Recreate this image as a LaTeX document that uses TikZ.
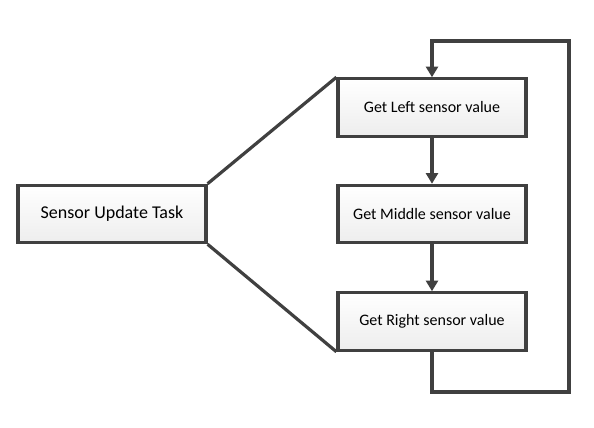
\documentclass[tikz,border=0pt]{standalone}
\usepackage{fontspec}
\setmainfont{Carlito}
\usetikzlibrary{arrows.meta,shadows}
\definecolor{linegray}{HTML}{404040}
\tikzset{
  taskbox/.style={draw=linegray,line width=2.4pt,top color=white,bottom color=gray!14,
    drop shadow={opacity=0.2,shadow xshift=1pt,shadow yshift=-1pt},
    minimum width=141pt,minimum height=43pt,inner sep=0pt},
  link/.style={draw=linegray,line width=2.4pt},
  flow/.style={link,-{Triangle[width=9pt,length=8pt]}}
}
\begin{document}
\begin{tikzpicture}[x=0.75pt,y=-0.75pt]
\useasboundingbox (0,0) rectangle (594,428);
\node[taskbox,font=\fontsize{13.5}{16}\selectfont] (task) at (112,214) {Sensor Update Task};
\node[taskbox,font=\fontsize{12}{14}\selectfont] (left) at (432,107.5) {Get Left sensor value};
\node[taskbox,font=\fontsize{12}{14}\selectfont] (middle) at (432,214) {Get Middle sensor value};
\node[taskbox,font=\fontsize{12}{14}\selectfont] (right) at (432,321.5) {Get Right sensor value};
\coordinate (loopbr) at (569,392);
\coordinate (looptr) at (569,41);
\draw[link] (task.north east) -- (left.north west);
\draw[link] (task.south east) -- (right.south west);
\draw[flow] (left) -- (middle);
\draw[flow] (middle) -- (right);
\draw[flow,line join=miter] (right.south) |- (loopbr) -- (looptr) -| (left.north);
\end{tikzpicture}
\end{document}
